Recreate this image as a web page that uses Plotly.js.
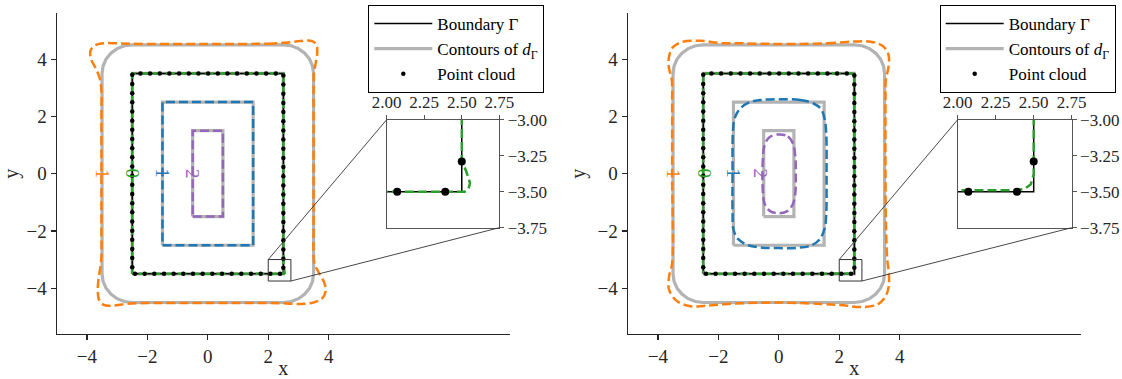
<!DOCTYPE html>
<html><head><meta charset="utf-8">
<script src="https://cdn.plot.ly/plotly-3.0.1.min.js"></script>
<style>html,body{margin:0;padding:0;background:#fff}</style>
</head><body><div id="chart" style="width:1122px;height:379px"></div>
<script>
// ---------------- data ----------------
const boundaryX = [-2.5, 2.5, 2.5, -2.5, -2.5];
const boundaryY = [-3.5, -3.5, 3.5, 3.5, -3.5];

const cloudX = [
  2.5,2.5,2.5,2.5,2.5,2.5,2.5,2.5,2.5,2.5,2.5,2.5,2.5,2.5,2.5,2.5,2.5,2.5,2.5,2.5,2.5,2.5,
  2.25,1.93,1.61,1.29,0.97,0.65,0.33,0.01,-0.31,-0.63,-0.95,-1.27,-1.59,-1.91,-2.23,
  -2.5,-2.5,-2.5,-2.5,-2.5,-2.5,-2.5,-2.5,-2.5,-2.5,-2.5,-2.5,-2.5,-2.5,-2.5,-2.5,-2.5,-2.5,-2.5,-2.5,-2.5,-2.5,
  -2.41,-2.09,-1.77,-1.45,-1.13,-0.81,-0.49,-0.17,0.15,0.47,0.79,1.11,1.43,1.75,2.07,2.39];
const cloudY = [
  -3.29,-2.97,-2.65,-2.33,-2.01,-1.69,-1.37,-1.05,-0.73,-0.41,-0.09,0.23,0.55,0.87,1.19,1.51,1.83,2.15,2.47,2.79,3.11,3.43,
  3.5,3.5,3.5,3.5,3.5,3.5,3.5,3.5,3.5,3.5,3.5,3.5,3.5,3.5,3.5,
  3.45,3.13,2.81,2.49,2.17,1.85,1.53,1.21,0.89,0.57,0.25,-0.07,-0.39,-0.71,-1.03,-1.35,-1.67,-1.99,-2.31,-2.63,-2.95,-3.27,
  -3.5,-3.5,-3.5,-3.5,-3.5,-3.5,-3.5,-3.5,-3.5,-3.5,-3.5,-3.5,-3.5,-3.5,-3.5,-3.5];

// exact contours of d_Gamma (levels -1, 0, 1, 2)
const gammaM1X = [3.5,3.466,3.366,3.207,3.0,2.759,2.5, -2.5,-2.759,-3.0,-3.207,-3.366,-3.466,-3.5,
                  -3.5,-3.466,-3.366,-3.207,-3.0,-2.759,-2.5, 2.5,2.759,3.0,3.207,3.366,3.466,3.5, 3.5];
const gammaM1Y = [3.5,3.759,4.0,4.207,4.366,4.466,4.5, 4.5,4.466,4.366,4.207,4.0,3.759,3.5,
                  -3.5,-3.759,-4.0,-4.207,-4.366,-4.466,-4.5, -4.5,-4.466,-4.366,-4.207,-4.0,-3.759,-3.5, 3.5];
const gamma1X = [-1.5, 1.5, 1.5, -1.5, -1.5];
const gamma1Y = [-2.5, -2.5, 2.5, 2.5, -2.5];
const gamma2X = [-0.5, 0.5, 0.5, -0.5, -0.5];
const gamma2Y = [-1.5, -1.5, 1.5, 1.5, -1.5];

// learned contours, left panel
const orangeLX = [0,2.0,2.55,3.05,3.45,3.6,3.62,3.56,3.51,3.5,3.5,3.5,3.5,3.5,3.53,3.68,3.85,3.9,3.78,3.5,3.07,2.5,2.0,0,-2.0,-2.7,-3.15,-3.45,-3.6,-3.64,-3.62,-3.56,-3.52,-3.52,-3.52,-3.52,-3.52,-3.58,-3.72,-3.86,-3.88,-3.7,-3.4,-3.0,-2.0,0];
const orangeLY = [4.53,4.54,4.57,4.63,4.63,4.48,4.2,3.8,3.5,3.0,2.0,0,-2.0,-2.9,-3.15,-3.47,-3.8,-4.1,-4.36,-4.5,-4.55,-4.53,-4.52,-4.52,-4.52,-4.55,-4.61,-4.58,-4.4,-4.1,-3.7,-3.3,-2.9,-2.0,0,2.0,2.9,3.35,3.7,4.0,4.3,4.5,4.56,4.55,4.53,4.53];
const greenLX = [-2.5,-2.5,2.5,2.5,2.53,2.555,2.545,2.52,-2.5];
const greenLY = [-3.5,3.5,3.5,-3.28,-3.36,-3.44,-3.48,-3.5,-3.5];
const blueLX = [-1.5, 1.5, 1.5, -1.5, -1.5];
const blueLY = [-2.5, -2.5, 2.5, 2.5, -2.5];
const purpleLX = [-0.5, 0.5, 0.5, -0.5, -0.5];
const purpleLY = [-1.5, -1.5, 1.5, 1.5, -1.5];

// learned contours, right panel
const orangeRX = [-0.05,1.6,2.26,3.04,3.45,3.63,3.63,3.54,3.53,3.53,3.55,3.59,3.64,3.64,3.53,3.26,2.7,2.15,1.38,-0.05,-1.7,-2.48,-2.92,-3.36,-3.63,-3.63,-3.53,-3.53,-3.53,-3.54,-3.64,-3.63,-3.5,-3.2,-2.6,-1.93,-1.16,-0.05];
const orangeRY = [4.53,4.55,4.6,4.61,4.45,4.15,3.73,3.26,2.5,0,-2.0,-3.0,-3.47,-3.93,-4.29,-4.57,-4.66,-4.6,-4.55,-4.5,-4.55,-4.62,-4.63,-4.46,-4.06,-3.59,-3.13,0,2.5,3.26,3.73,4.1,4.42,4.6,4.64,4.56,4.55,4.53];
const greenRX = [-2.5,-2.47,-2.4,2.4,2.47,2.5,2.5,2.48,2.44,2.38,-2.4,-2.47,-2.5,-2.5];
const greenRY = [3.4,3.47,3.5,3.5,3.47,3.4,-3.38,-3.45,-3.48,-3.49,-3.5,-3.47,-3.4,3.4];
const blueRX = [0,0.7,1.15,1.4,1.52,1.57,1.58,1.57,1.52,1.35,1.05,0.6,0,-0.6,-1.05,-1.35,-1.5,-1.53,-1.53,-1.52,-1.47,-1.3,-0.95,-0.6,0];
const blueRY = [2.6,2.57,2.45,2.25,1.9,1.4,0,-1.4,-1.9,-2.3,-2.52,-2.59,-2.6,-2.58,-2.49,-2.28,-1.95,-1.4,0,1.4,1.9,2.25,2.5,2.57,2.6];
const purpleRX = [0,0.3,0.47,0.55,0.56,0.55,0.47,0.3,0,-0.3,-0.47,-0.53,-0.53,-0.47,-0.3,0];
const purpleRY = [1.37,1.3,1.05,0.55,0,-0.65,-1.05,-1.3,-1.38,-1.3,-1.05,-0.6,0.45,1.0,1.28,1.37];

// contour labels
const labelText = ['1', '0', '1', '2'];
const labelXL = [-3.48, -2.5, -1.5, -0.5];
const labelXR = [-3.48, -2.47, -1.5, -0.62];
const labelY = [0, 0, 0, 0];

// axes
const mainTicks = [-4, -2, 0, 2, 4];
const mainXRange = [-5, 10];
const mainYRange = [-5.6, 5.6];
const insetXRange = [2.0, 2.75];
const insetYRange = [-3.75, -3.0];
const insetXTicks = [2.0, 2.25, 2.5, 2.75];
const insetXText = ['2.00', '2.25', '2.50', '2.75'];
const insetYTicks = [-3.0, -3.25, -3.5, -3.75];
const insetYText = ['\u22123.00', '\u22123.25', '\u22123.50', '\u22123.75'];

// ---------------- styles ----------------
const FONT = 'Liberation Serif';
const C = {orange:'#ff7f0e', green:'#2ca02c', blue:'#1f77b4', purple:'#9467bd', gray:'#b3b3b3', ink:'#262626'};
const DASH = '9px,4px';
const W = 1122, H = 379;
const fx = p => p / W, fy = p => 1 - p / H;
const domX1 = [fx(56.7), fx(510)], domX2 = [fx(627.7), fx(1081)], domY = [fy(334), fy(13.3)];
const inX1 = [fx(386.7), fx(499.3)], inX2 = [fx(957.7), fx(1071.7)], inY = [fy(227.7), fy(119.7)];

const traces = [];
function line(x, y, xa, ya, color, width, dash, shape, extra) {
  return Object.assign({type:'scatter', mode:'lines', x, y, xaxis:xa, yaxis:ya, hoverinfo:'skip', showlegend:false,
    line:{color, width, dash: dash || 'solid', shape: shape || 'linear', smoothing: 1}}, extra || {});
}
function panel(xa, ya, ixa, iya, leg, learned) {
  traces.push(line(gammaM1X, gammaM1Y, xa, ya, C.gray, 3.2, null, null,
    {showlegend:true, legend:leg, name:'Contours of <i>d</i><sub>Γ</sub>', legendrank:2}));
  traces.push(line(boundaryX, boundaryY, xa, ya, C.gray, 3.2));
  traces.push(line(gamma1X, gamma1Y, xa, ya, C.gray, 3.2));
  traces.push(line(gamma2X, gamma2Y, xa, ya, C.gray, 3.2));
  traces.push(line(boundaryX, boundaryY, xa, ya, '#000', 1.5, null, null,
    {showlegend:true, legend:leg, name:'Boundary Γ', legendrank:1}));
  traces.push(line(learned.ox, learned.oy, xa, ya, C.orange, 2.5, DASH, 'spline'));
  traces.push(line(learned.gx, learned.gy, xa, ya, C.green, 2.5, DASH, 'linear'));
  traces.push(line(learned.bx, learned.by, xa, ya, C.blue, 2.5, DASH, learned.bshape));
  traces.push(line(learned.px, learned.py, xa, ya, C.purple, 2.5, DASH, learned.bshape));
  traces.push({type:'scatter', mode:'markers', x:cloudX, y:cloudY, xaxis:xa, yaxis:ya, hoverinfo:'skip',
    marker:{color:'#000', size:4.5}, showlegend:true, legend:leg, name:'Point cloud', legendrank:3});
  traces.push(line(boundaryX, boundaryY, ixa, iya, '#000', 1.5));
  traces.push(line(learned.gx, learned.gy, ixa, iya, C.green, 2.5, DASH, 'linear'));
  traces.push({type:'scatter', mode:'markers', x:cloudX, y:cloudY, xaxis:ixa, yaxis:iya, hoverinfo:'skip',
    marker:{color:'#000', size:8}, showlegend:false});
}
panel('x', 'y', 'x3', 'y3', 'legend', {ox:orangeLX, oy:orangeLY, gx:greenLX, gy:greenLY, bx:blueLX, by:blueLY, px:purpleLX, py:purpleLY, bshape:'linear'});
panel('x2', 'y2', 'x4', 'y4', 'legend2', {ox:orangeRX, oy:orangeRY, gx:greenRX, gy:greenRY, bx:blueRX, by:blueRY, px:purpleRX, py:purpleRY, bshape:'spline'});

const tickFont = {family:FONT, size:19, color:C.ink};
function mainX(dom, anchor) {
  return {domain:dom, range:mainXRange, anchor, tickvals:mainTicks, ticks:'outside', ticklen:5, tickwidth:1.2,
    tickcolor:C.ink, showline:true, linecolor:C.ink, linewidth:1.2, showgrid:false, zeroline:false,
    tickfont:tickFont, automargin:false, fixedrange:true,
    title:{text:'x', font:{family:FONT, size:20, color:C.ink}, standoff:10}};
}
function mainY(anchor) {
  return {domain:domY, range:mainYRange, anchor, tickvals:mainTicks, ticks:'outside', ticklen:5, tickwidth:1.2,
    tickcolor:C.ink, showline:true, linecolor:C.ink, linewidth:1.2, showgrid:false, zeroline:false,
    tickfont:tickFont, automargin:false, fixedrange:true,
    title:{text:'y', font:{family:FONT, size:20, color:C.ink}, standoff:6}};
}
const insetFont = {family:FONT, size:17, color:C.ink};
function inXAx(dom, anchor) {
  return {domain:dom, range:insetXRange, anchor, side:'top', tickvals:insetXTicks, ticktext:insetXText,
    ticks:'outside', ticklen:4, tickcolor:'#555', showline:true, mirror:true, linecolor:'#555', linewidth:1,
    showgrid:false, zeroline:false, tickfont:insetFont, automargin:false, fixedrange:true};
}
function inYAx(anchor) {
  return {domain:inY, range:insetYRange, anchor, side:'right', tickvals:insetYTicks, ticktext:insetYText,
    ticks:'outside', ticklen:4, tickcolor:'#555', showline:true, mirror:true, linecolor:'#555', linewidth:1,
    showgrid:false, zeroline:false, tickfont:insetFont, automargin:false, fixedrange:true};
}
function toPaper(v, dom, rng) { return dom[0] + (v - rng[0]) / (rng[1] - rng[0]) * (dom[1] - dom[0]); }

const shapes = [];
const annotations = [];
[[domX1, inX1, 'x', 'y', labelXL], [domX2, inX2, 'x2', 'y2', labelXR]].forEach(([dm, di, xr, yr, lx]) => {
  shapes.push({type:'rect', xref:xr, yref:yr, x0:insetXRange[0], x1:insetXRange[1], y0:insetYRange[0], y1:insetYRange[1],
    line:{color:'#333', width:1}, layer:'above'});
  shapes.push({type:'line', xref:'paper', yref:'paper',
    x0:toPaper(insetXRange[0], dm, mainXRange), y0:toPaper(insetYRange[1], domY, mainYRange),
    x1:di[0], y1:inY[1], line:{color:'#333', width:0.9}, layer:'above'});
  shapes.push({type:'line', xref:'paper', yref:'paper',
    x0:toPaper(insetXRange[1], dm, mainXRange), y0:toPaper(insetYRange[0], domY, mainYRange),
    x1:di[1], y1:inY[0], line:{color:'#333', width:0.9}, layer:'above'});
  const cols = [C.orange, C.green, C.blue, C.purple];
  labelText.forEach((t, i) => annotations.push({xref:xr, yref:yr, x:lx[i], y:labelY[i], text:t, showarrow:false,
    textangle:90, font:{family:FONT, size:19, color:cols[i]}}));
});

const legendBase = {xanchor:'right', yanchor:'top', y:fy(5), bgcolor:'#fff', bordercolor:'#000', borderwidth:1,
  font:{family:FONT, size:17, color:'#000'}, itemwidth:58};
const layout = {
  width:W, height:H, margin:{l:0, r:0, t:0, b:0}, paper_bgcolor:'#fff', plot_bgcolor:'rgba(0,0,0,0)',
  xaxis:mainX(domX1, 'y'), yaxis:mainY('x'),
  xaxis2:mainX(domX2, 'y2'), yaxis2:mainY('x2'),
  xaxis3:inXAx(inX1, 'y3'), yaxis3:inYAx('x3'),
  xaxis4:inXAx(inX2, 'y4'), yaxis4:inYAx('x4'),
  legend:Object.assign({}, legendBase, {x:fx(544.3)}),
  legend2:Object.assign({}, legendBase, {x:fx(1115.7)}),
  shapes, annotations
};
Plotly.newPlot('chart', traces, layout, {staticPlot:true, displayModeBar:false});
</script></body></html>
